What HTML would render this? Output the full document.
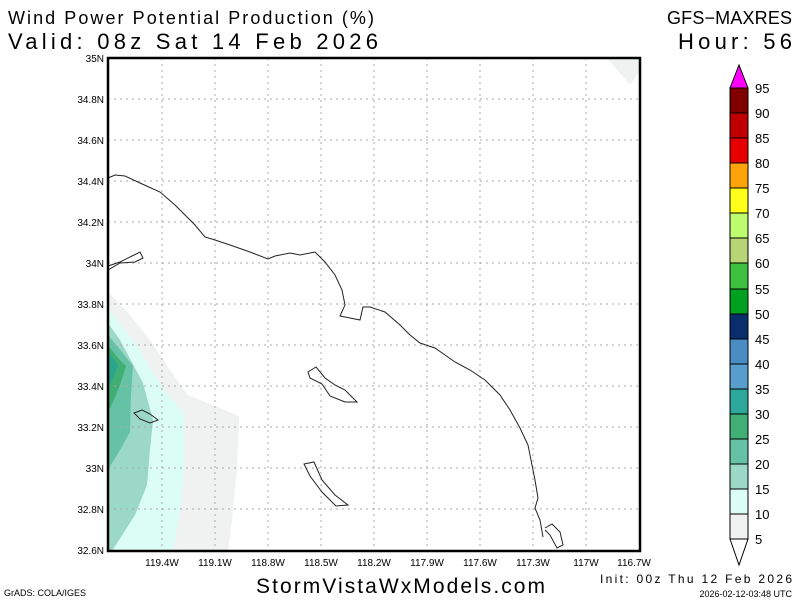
<!DOCTYPE html>
<html><head><meta charset="utf-8"><style>
body{margin:0;background:#fff;}
svg text{font-family:"Liberation Sans",sans-serif;}
</style></head><body>
<svg width="800" height="600" viewBox="0 0 800 600" xmlns="http://www.w3.org/2000/svg">
<rect width="800" height="600" fill="#fff"/>
<text x="8" y="24" font-size="18" textLength="366" lengthAdjust="spacing">Wind Power Potential Production (%)</text>
<text x="8" y="49" font-size="22" textLength="370" lengthAdjust="spacing">Valid: 08z Sat 14 Feb 2026</text>
<text x="667" y="24" font-size="18" textLength="125" lengthAdjust="spacing">GFS−MAXRES</text>
<text x="678" y="49" font-size="22" textLength="114" lengthAdjust="spacing">Hour: 56</text>
<g stroke="none">
<polygon points="108,292 130,315 150,340 170,370 188,395 210,404 239,416 237,470 232,520 228,551 108,551" fill="#eff2f1"/>
<polygon points="108,308 125,330 140,350 152,372 166,392 184,413 184,470 180,510 173,551 108,551" fill="#dcfdf5"/>
<polygon points="108,323 120,340 135,368 143,383 153,420 150,450 147,485 135,515 112,551 108,551" fill="#9cd8c6"/>
<polygon points="108,335 122,352 133,366 131,395 130,432 120,450 108,470" fill="#66c2a4"/>
<polygon points="108,345 118,358 126,366 120,385 114,400 108,412" fill="#41ae76"/>
<polygon points="108,352 116,362 118,366 113,378 108,387" fill="#2ca58e"/>
<polygon points="607,58 639,58 639,72 630,85" fill="#eff2f1"/>
<polygon points="628,58 639,58 639,62" fill="#dcfdf5"/>
</g>
<g stroke="#aaa" stroke-width="1" stroke-dasharray="2,4">
<line x1="162" y1="58" x2="162" y2="551"/><line x1="215" y1="58" x2="215" y2="551"/>
<line x1="268" y1="58" x2="268" y2="551"/><line x1="321" y1="58" x2="321" y2="551"/>
<line x1="374" y1="58" x2="374" y2="551"/><line x1="427" y1="58" x2="427" y2="551"/>
<line x1="480" y1="58" x2="480" y2="551"/><line x1="533" y1="58" x2="533" y2="551"/>
<line x1="586" y1="58" x2="586" y2="551"/>
<line x1="108" y1="99" x2="640" y2="99"/><line x1="108" y1="140" x2="640" y2="140"/>
<line x1="108" y1="181" x2="640" y2="181"/><line x1="108" y1="222" x2="640" y2="222"/>
<line x1="108" y1="263" x2="640" y2="263"/><line x1="108" y1="304" x2="640" y2="304"/>
<line x1="108" y1="345" x2="640" y2="345"/><line x1="108" y1="386" x2="640" y2="386"/>
<line x1="108" y1="427" x2="640" y2="427"/><line x1="108" y1="468" x2="640" y2="468"/>
<line x1="108" y1="509" x2="640" y2="509"/>
</g>
<g fill="none" stroke="#222" stroke-width="1">
<polyline points="108,178 115,175 125,176 140,183 160,192 175,205 185,215 195,225 205,237 215,240 230,245 250,252 268,259 275,256 290,253 300,255 315,252 325,262 335,275 342,290 345,305 340,316 350,318 360,320 363,307 370,307 385,312 400,325 410,335 420,343 435,348 445,355 455,362 470,370 485,380 500,395 510,410 520,428 528,445 532,465 535,480 538,498 535,508 540,520 543,537"/>
<polyline points="545,528 552,524 560,532 563,545 557,548 550,535 545,530"/>
<polygon points="108,266 120,262 132,256 140,252 143,258 135,262 120,263 108,270"/>
<polygon points="308,372 316,367 325,378 335,385 345,390 357,402 345,402 330,396 322,384 310,378"/>
<polygon points="304,464 314,462 322,480 335,495 348,505 336,506 322,492 310,476"/>
<polygon points="134,413 142,410 150,414 158,420 150,423 140,419"/>
</g>
<rect x="108" y="58" width="532" height="493" fill="none" stroke="#000" stroke-width="2.5"/>
<g font-size="10" text-anchor="end">
<text x="104" y="62">35N</text><text x="104" y="103">34.8N</text><text x="104" y="144">34.6N</text>
<text x="104" y="185">34.4N</text><text x="104" y="226">34.2N</text><text x="104" y="267">34N</text>
<text x="104" y="308">33.8N</text><text x="104" y="349">33.6N</text><text x="104" y="390">33.4N</text>
<text x="104" y="431">33.2N</text><text x="104" y="472">33N</text><text x="104" y="513">32.8N</text>
<text x="104" y="554">32.6N</text>
</g>
<g font-size="10" text-anchor="middle">
<text x="162" y="566">119.4W</text><text x="215" y="566">119.1W</text><text x="268" y="566">118.8W</text>
<text x="321" y="566">118.5W</text><text x="374" y="566">118.2W</text><text x="427" y="566">117.9W</text>
<text x="480" y="566">117.6W</text><text x="533" y="566">117.3W</text><text x="586" y="566">117W</text>
<text x="634" y="566">116.7W</text>
</g>
<g stroke="#000" stroke-width="1">
<polygon points="730,88 739,65 748,88" fill="#ff00ff"/>
<rect x="730" y="88" width="18" height="25" fill="#800000"/>
<rect x="730" y="113" width="18" height="25" fill="#c00000"/>
<rect x="730" y="138" width="18" height="25" fill="#e80000"/>
<rect x="730" y="163" width="18" height="25" fill="#ffa30a"/>
<rect x="730" y="188" width="18" height="25" fill="#ffff1a"/>
<rect x="730" y="213" width="18" height="25" fill="#bdfb6f"/>
<rect x="730" y="238" width="18" height="25" fill="#b7d574"/>
<rect x="730" y="263" width="18" height="26" fill="#3dc03d"/>
<rect x="730" y="289" width="18" height="25" fill="#00a021"/>
<rect x="730" y="314" width="18" height="25" fill="#0a2e6c"/>
<rect x="730" y="339" width="18" height="25" fill="#4a8cc4"/>
<rect x="730" y="364" width="18" height="25" fill="#589ecc"/>
<rect x="730" y="389" width="18" height="25" fill="#2ca79a"/>
<rect x="730" y="414" width="18" height="25" fill="#41ae76"/>
<rect x="730" y="439" width="18" height="25" fill="#66c2a4"/>
<rect x="730" y="464" width="18" height="25" fill="#9cd8c6"/>
<rect x="730" y="489" width="18" height="25" fill="#dcfdf5"/>
<rect x="730" y="514" width="18" height="25" fill="#eff2f1"/>
<polygon points="730,539 739,565 748,539" fill="#fff"/>
</g>
<g font-size="13">
<text x="755" y="93">95</text><text x="755" y="118">90</text><text x="755" y="143">85</text>
<text x="755" y="168">80</text><text x="755" y="193">75</text><text x="755" y="218">70</text>
<text x="755" y="243">65</text><text x="755" y="268">60</text><text x="755" y="294">55</text>
<text x="755" y="319">50</text><text x="755" y="344">45</text><text x="755" y="369">40</text>
<text x="755" y="394">35</text><text x="755" y="419">30</text><text x="755" y="444">25</text>
<text x="755" y="469">20</text><text x="755" y="494">15</text><text x="755" y="519">10</text>
<text x="755" y="544">5</text>
</g>
<text x="256" y="593" font-size="21" textLength="289" lengthAdjust="spacing">StormVistaWxModels.com</text>
<text x="4" y="596" font-size="9">GrADS: COLA/IGES</text>
<text x="600" y="583" font-size="12" textLength="192" lengthAdjust="spacing">Init: 00z Thu 12 Feb 2026</text>
<text x="792" y="597" font-size="9" text-anchor="end">2026-02-12-03:48 UTC</text>
</svg>
</body></html>
